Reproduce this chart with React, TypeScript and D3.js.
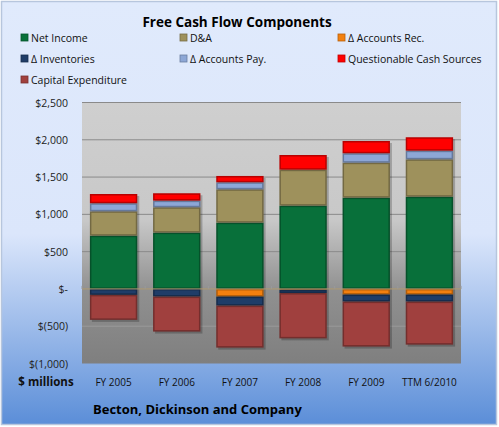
import * as d3 from 'd3'

const categories = ['FY 2005', 'FY 2006', 'FY 2007', 'FY 2008', 'FY 2009', 'TTM 6/2010']
const netIncome = [714, 755, 889, 1117, 1224, 1237]
const dna = [327, 340, 447, 482, 469, 501]
const accountsRec = [0, 0, -103, -10, -76, -76]
const inventories = [-80, -103, -121, -45, -94, -94]
const accountsPay = [108, 89, 94, 0, 126, 116]
const questionable = [124, 99, 85, 197, 165, 180]
const capex = [-335, -469, -563, -608, -603, -577]

const seriesNames = [
  'Net Income',
  'D&A',
  'Δ Accounts Rec.',
  'Δ Inventories',
  'Δ Accounts Pay.',
  'Questionable Cash Sources',
  'Capital Expenditure',
]
const seriesValues = [netIncome, dna, accountsRec, inventories, accountsPay, questionable, capex]
const colors = ['#08703a', '#9e915c', '#f3800f', '#1f3d68', '#8da7d6', '#ff0000', '#a0403e']
const yTicks = [2500, 2000, 1500, 1000, 500, 0, -500, -1000]

const W = 499
const H = 427
const plot = { left: 82, right: 461, top: 102.5, bottom: 363.5 }

const fmt = d3.format(',')
const tickLabel = (v: number) => (v === 0 ? '$-' : v < 0 ? `$(${fmt(-v)})` : `$${fmt(v)}`)

export default function App() {
  const rows = categories.map((c, i) => {
    const r: Record<string, number | string> = { cat: c }
    seriesNames.forEach((s, k) => (r[s] = seriesValues[k][i]))
    return r
  })
  const stacked = d3
    .stack<Record<string, number | string>>()
    .keys(seriesNames)
    .value((d, k) => d[k] as number)
    .offset(d3.stackOffsetDiverging)(rows)

  const x = d3.scaleBand<string>().domain(categories).range([plot.left, plot.right]).paddingInner(0.25).paddingOuter(0.125)
  const y = d3.scaleLinear().domain([-1000, 2500]).range([plot.bottom, plot.top])

  const legendCols = [21, 180, 338]
  const legendRows = [38, 59, 80]

  return (
    <svg width={W} height={H} style={{ position: 'absolute', left: 0, top: 0 }} fontFamily="'Open Sans', sans-serif">
      <defs>
        <linearGradient id="bg" x1="0" y1="0" x2="0" y2="1">
          <stop offset="0" stopColor="#e0eafc" />
          <stop offset="0.55" stopColor="#dbe6fb" />
          <stop offset="1" stopColor="#5b8ed8" />
        </linearGradient>
        <linearGradient id="pa" x1="0" y1="0" x2="0" y2="1">
          <stop offset="0" stopColor="#cfcfcf" />
          <stop offset="0.45" stopColor="#c8c8c8" />
          <stop offset="0.72" stopColor="#909090" />
          <stop offset="1" stopColor="#7f7f7f" />
        </linearGradient>
      </defs>
      <rect x={1.5} y={1.5} width={W - 4} height={H - 4} fill="url(#bg)" stroke="#b7c6dd" strokeWidth={1.5} />
      <text x={237} y={27} textAnchor="middle" fontWeight="bold" fontSize={13.5} fill="#000">
        Free Cash Flow Components
      </text>
      {seriesNames.map((s, i) => {
        const lx = legendCols[i % 3]
        const ly = legendRows[Math.floor(i / 3)]
        return (
          <g key={s}>
            <rect x={lx} y={ly - 4} width={7} height={7} fill={colors[i]} stroke={d3.color(colors[i])!.darker(0.8).toString()} strokeWidth={0.8} />
            <text x={lx + 10} y={ly + 3.5} fontSize={10.5} fill="#111">
              {s}
            </text>
          </g>
        )
      })}

      <rect x={plot.left} y={plot.top} width={plot.right - plot.left} height={plot.bottom - plot.top} fill="url(#pa)" />
      {yTicks.filter((v) => v !== -1000 && v !== 0).map((v) => (
        <line key={v} x1={plot.left} x2={plot.right} y1={y(v)} y2={y(v)} stroke={v > 0 ? '#8a8a8a' : '#9a9a9a'} strokeWidth={1} />
      ))}
      {yTicks.map((v) => (
        <text key={v} x={68} y={y(v) + 4} textAnchor="end" fontSize={10.5} fill="#222">
          {tickLabel(v)}
        </text>
      ))}

      {categories.map((c, i) => {
        const lo = d3.min(stacked, (s) => s[i][0])!
        const hi = d3.max(stacked, (s) => s[i][1])!
        return (
          <rect key={c} x={x(c)! + 2} y={y(hi) + 2} width={x.bandwidth()} height={y(lo) - y(hi)} fill="#000" opacity={0.22} />
        )
      })}
      {stacked.map((s, k) =>
        s.map((d, i) => {
          const y0 = y(Math.max(d[0], d[1]))
          const y1 = y(Math.min(d[0], d[1]))
          if (y1 - y0 < 0.5) return null
          const base = d3.color(colors[k])!
          return (
            <g key={`${k}-${i}`}>
              <rect x={x(categories[i])!} y={y0} width={x.bandwidth()} height={y1 - y0} fill={base.darker(0.9).toString()} />
              <rect
                x={x(categories[i])! + 1.5}
                y={y0 + 1.5}
                width={x.bandwidth() - 3}
                height={Math.max(0, y1 - y0 - 3)}
                fill={colors[k]}
              />
            </g>
          )
        })
      )}

      <line x1={plot.left} x2={plot.right} y1={y(0)} y2={y(0)} stroke="#b09a70" strokeWidth={1} />
      {d3.range(categories.length + 1).map((i) => {
        const tx = plot.left + (i * (plot.right - plot.left)) / categories.length
        return <line key={i} x1={tx} x2={tx} y1={y(0)} y2={y(0) - 3} stroke="#999" />
      })}

      {categories.map((c) => (
        <text key={c} x={x(c)! + x.bandwidth() / 2} y={386} textAnchor="middle" fontSize={10} fill="#111">
          {c}
        </text>
      ))}
      <text x={46} y={386} textAnchor="middle" fontWeight="bold" fontSize={11.5} fill="#111">
        $ millions
      </text>
      <text x={93} y={414} fontWeight="bold" fontSize={13} fill="#000">
        Becton, Dickinson and Company
      </text>
    </svg>
  )
}
